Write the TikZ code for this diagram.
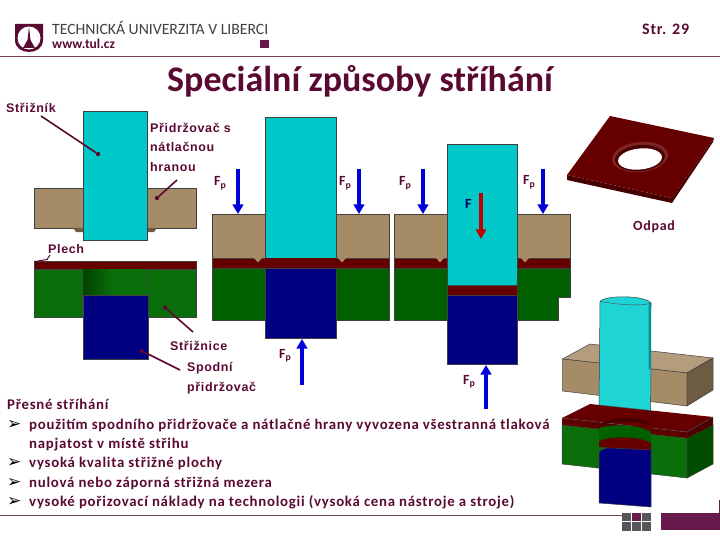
\documentclass[tikz,border=0pt]{standalone}
\usepackage{fontspec}
\usetikzlibrary{arrows.meta,positioning,calc}
\setmainfont{Carlito}
\newfontfamily\slidefont[LetterSpace=5]{Carlito}
\newfontfamily\labelfont[LetterSpace=5]{Liberation Sans}
\newfontfamily\symfont{DejaVu Sans}
\definecolor{tulwine}{RGB}{90,10,50}
\definecolor{tulbar}{RGB}{104,26,76}
\definecolor{rulegray}{RGB}{120,70,85}
\definecolor{tilegray}{RGB}{85,85,90}
\definecolor{holdertan}{RGB}{166,140,102}
\definecolor{holderdark}{RGB}{110,92,66}
\definecolor{punchcyan}{RGB}{0,200,200}
\definecolor{punchlight}{RGB}{30,212,212}
\definecolor{sheetred}{RGB}{102,0,0}
\definecolor{diegreen}{RGB}{10,110,10}
\definecolor{diedark}{RGB}{0,96,0}
\definecolor{lowblue}{RGB}{0,0,128}
\tikzset{
  part/.style={draw=black!75!white,line width=0.5pt},
  fplabel/.style={anchor=base west,inner sep=0pt,text=tulwine,font=\bfseries\fontsize{14}{14}\selectfont},
  tag/.style={anchor=base west,inner sep=0pt,text=tulwine,align=left,font=\labelfont\bfseries\fontsize{12.5}{19.5}\selectfont},
  bodyline/.style={anchor=base west,inner sep=0pt,text=tulwine,font=\slidefont\bfseries\fontsize{14.8}{16}\selectfont},
  leader/.style={draw=tulwine,line width=1.6pt},
  leaddot/.style={circle,fill=tulwine,inner sep=0pt,minimum size=4.5pt},
  fparrow/.style={draw=blue!85!black,line width=3.4pt,-{Triangle[length=9.5pt,width=10.5pt]}},
  farrow/.style={draw=red!75!black,line width=3.4pt,-{Triangle[length=9.5pt,width=10pt,fill=red!90!black]}},
}
\begin{document}
\begin{tikzpicture}[x=1pt,y=-1pt]
  \useasboundingbox (0,0) rectangle (720,540);
  % header and footer
  \draw[rulegray,line width=0.7pt] (0,56.5) -- (720,56.5);
  \draw[rulegray,line width=0.7pt] (0,515) -- (622,515);
  \fill[tulwine] (15,24) -- (43,24) -- (43,40) .. controls (43,48) and (36,52) .. (29,52) .. controls (22,52) and (15,48) .. (15,40) -- cycle;
  \fill[white] (29,38) circle (11.5);
  \fill[tulwine] (29,27) -- (30.5,40) -- (35,48) -- (23,48) -- (27.5,40) -- cycle;
  \node[anchor=base west,inner sep=0pt,text=black!75!white,font=\fontsize{15.7}{16}\selectfont] (tultitle) at (52,34.5) {TECHNICKÁ UNIVERZITA V LIBERCI};
  \node[anchor=base west,inner sep=0pt,text=tulwine,font=\bfseries\fontsize{13.5}{14}\selectfont] (tulweb) at (52,49) {www.tul.cz};
  \fill[tulbar] (260,40) rectangle (268.5,48.5);
  \node[anchor=base west,inner sep=0pt,text=tulwine,font=\slidefont\bfseries\fontsize{16}{17}\selectfont] (page) at (642,35) {Str. 29};
  \node[anchor=base west,inner sep=0pt,text=tulwine,font=\bfseries\fontsize{36}{36}\selectfont] (title) at (167,92) {Speciální způsoby stříhání};
  \foreach \col in {0,1,2}
    \foreach \row in {0,1}
      \fill[tilegray] (622+\col*10.2,513+\row*9.3) rectangle +(9,8.2);
  \fill[tulbar] (632.2,513) rectangle +(9,8.2);
  \fill[tulbar] (661,513) rectangle (720,530);
  \draw[tulbar,line width=0.7pt] (719.5,500) -- (719.5,513);

  % open tool
  \draw[part,fill=holdertan] (34,188) rectangle (196,228.5);
  \fill[holderdark] (73,228) -- (76,232) -- (83,232) -- (83,228) -- cycle (157,228) -- (154,232) -- (147,232) -- (147,228) -- cycle;
  \draw[part,fill=punchcyan] (83,111) rectangle (147.5,240.5);
  \draw[part,fill=sheetred] (34,261) rectangle (196,269);
  \draw[part,fill=diegreen] (34,269) rectangle (196,317.5);
  \shade[left color=diedark!70!black,right color=diegreen] (83,269) rectangle (113,295);
  \fill[diegreen] (113,269) rectangle (147,295);
  \draw[black!70!white,line width=0.5pt] (83,269) -- (82,317.5) (147.5,269) -- (148,317.5);
  \draw[part,fill=lowblue] (83,295) rectangle (148,359.5);

  % holder and lower holder closed
  \draw[part,fill=holdertan] (212,214) rectangle (389,258);
  \draw[part,fill=sheetred] (212,258) rectangle (389,268);
  \draw[part,fill=diedark] (212,268) rectangle (389,320.5);
  \fill[holdertan] (254,258) -- (262,258) -- (258,262.5) -- cycle (338,258) -- (346,258) -- (342,262.5) -- cycle;
  \draw[part,fill=punchcyan] (265,117) rectangle (336,258);
  \fill[sheetred] (265,258) rectangle (336,268);
  \draw[part,fill=lowblue] (265,268) rectangle (336,338);

  % sheared
  \draw[part,fill=holdertan] (394,214) rectangle (570,258);
  \draw[part,fill=sheetred] (394,258) rectangle (570,268);
  \draw[part,fill=diedark] (394,268) -- (570,268) -- (570,297) -- (558,297) -- (558,320.5) -- (394,320.5) -- cycle;
  \fill[holdertan] (436,258) -- (444,258) -- (440,262.5) -- cycle (521,258) -- (529,258) -- (525,262.5) -- cycle;
  \draw[part,fill=punchcyan] (447,144) rectangle (517,285);
  \draw[part,fill=sheetred] (447,285) rectangle (517,295);
  \draw[part,fill=lowblue] (447,295) rectangle (517,364.5);

  % forces
  \foreach \name/\x/\ya/\yb in {fpa/238/169/214,fpb/359/169/214,fpc/423/169/214,fpd/543/169/214,fpe/302/385/339,fpf/486/409/365}{
    \coordinate (\name tail) at (\x,\ya);
    \coordinate (\name tip) at (\x,\yb);
    \draw[fparrow] (\name tail) -- (\name tip);
  }
  \coordinate (ftail) at (481,193);
  \coordinate (ftip) at (481,239);
  \draw[farrow] (ftail) -- (ftip);
  \node[fplabel] (fla) at (214,186) {F\textsubscript{p}};
  \node[fplabel] (flb) at (339,186) {F\textsubscript{p}};
  \node[fplabel] (flc) at (399,186) {F\textsubscript{p}};
  \node[fplabel] (fld) at (523,185) {F\textsubscript{p}};
  \node[fplabel] (fle) at (279,358) {F\textsubscript{p}};
  \node[fplabel] (flf) at (463,384) {F\textsubscript{p}};
  \node[fplabel,text=lowblue!70!black] (flz) at (465,209) {F};

  % labels
  \node[tag] (strnik) at (6,113) {Střižník};
  \node[tag,anchor=north west] (drzak) at (150,122.5) {Přidržovač s\\nátlačnou\\hranou};
  \node[tag] (plech) at (48,254) {Plech};
  \node[tag] (strnice) at (170,350) {Střižnice};
  \node[tag,anchor=north west] (spodni) at (187,362.5) {Spodní\\přidržovač};
  \node[anchor=base west,inner sep=0pt,text=tulwine,font=\slidefont\bfseries\fontsize{14}{14}\selectfont] (odpad) at (633,230) {Odpad};
  \node[leaddot] (pdot) at (98,154) {};
  \node[leaddot] (ddot) at (157,198) {};
  \node[leaddot,minimum size=2pt] (sdot) at (35,261.5) {};
  \node[leaddot] (ndot) at (165,307.5) {};
  \node[leaddot] (bdot) at (142,351) {};
  \coordinate (pstart) at (41,116);
  \coordinate (dstart) at (177,180);
  \coordinate (sstart) at (50,255);
  \coordinate (sbend) at (47,259.5);
  \coordinate (nstart) at (193,332);
  \coordinate (bstart) at (180,370);
  \draw[leader] (pstart) -- (pdot);
  \draw[leader] (dstart) -- (ddot);
  \draw[leader,line width=1pt] (sstart) -- (sbend) -- (sdot);
  \draw[leader] (nstart) -- (ndot);
  \draw[leader] (bstart) -- (bdot);

  % text
  \node[bodyline] (lead) at (7,409) {Přesné stříhání};
  \foreach \yy/\txt in {429/{použitím spodního přidržovače a nátlačné hrany vyvozena všestranná tlaková},467.5/{vysoká kvalita střižné plochy},487/{nulová nebo záporná střižná mezera},506/{vysoké pořizovací náklady na technologii (vysoká cena nástroje a stroje)}}{
    \node[anchor=base west,inner sep=0pt,text=black,font=\symfont\fontsize{17}{17}\selectfont] at (7,\yy) {➢};
    \node[bodyline] at (29,\yy) {\txt};
  }
  \node[bodyline] (wrapline) at (29,448) {napjatost v místě střihu};

  % waste plate
  \fill[sheetred!70!black] (567,175) -- (672,198) -- (714,138) -- (713,142) -- (672,203) -- (567,180) -- cycle;
  \fill[sheetred] (610,116) -- (714,138) -- (672,198) -- (567,175) -- cycle;
  \fill[sheetred!85!white,rotate around={6:(640,157)}] (640,157) ellipse (28 and 15);
  \fill[sheetred!75!black,rotate around={6:(640,158)}] (640,158) ellipse (25 and 13);
  \fill[white,rotate around={6:(640,159)}] (640,159) ellipse (22 and 10.5);

  % assembly, die and lower holder
  \draw[part,fill=diegreen] (562,425) -- (687,438) -- (687,478) -- (562,464) -- cycle;
  \draw[part,fill=diedark!80!black] (687,438) -- (713,425) -- (713,464) -- (687,478) -- cycle;
  \fill[sheetred] (562,418) -- (590,404) -- (713,417) -- (687,432) -- cycle;
  \fill[sheetred!90!black] (562,418) -- (687,432) -- (687,438) -- (562,425) -- cycle;
  \fill[sheetred!75!black] (687,432) -- (713,417) -- (713,425) -- (687,438) -- cycle;
  \draw[black!70!white,line width=0.4pt] (562,418) -- (687,432) -- (713,417) (687,432) -- (687,438);
  \fill[sheetred] (599,426) rectangle (651,440);
  \fill[sheetred!65!black] (599,427) .. controls (605,415) and (645,415) .. (653,426) .. controls (645,420) and (605,420) .. (599,427) -- cycle;
  \fill[diedark] (599,428) .. controls (610,424) and (640,424) .. (651,432) -- (651,444) -- (599,440) -- cycle;
  \draw[black!60!green,line width=0.4pt] (599,433) .. controls (610,430) and (640,430) .. (651,437);
  \fill[sheetred] (599,441) .. controls (610,436) and (640,436) .. (651,443) -- (651,451) -- (599,447) -- cycle;
  \draw[part,fill=lowblue] (599,452) .. controls (602,449) and (605,448) .. (610,448) -- (651,450) -- (651,507) -- (599,503) -- cycle;

  % assembly, holder and punch
  \draw[part,fill=holdertan!85!white] (562.5,359) -- (590,344) -- (713,358) -- (687,373) -- cycle;
  \draw[part,fill=holdertan] (562.5,359) -- (687,373) -- (687,406) -- (562.5,391) -- cycle;
  \draw[part,fill=holderdark] (687,373) -- (713,358) -- (713,390) -- (687,406) -- cycle;
  \draw[part,fill=punchlight] (600,301.5) .. controls (605,295) and (645,295) .. (651,303) -- (650.7,410.5) -- (599,405) -- cycle;
  \fill[punchcyan!75!black] (648.5,303.5) -- (651,303) -- (650.9,368) -- (648.5,370) -- cycle;
  \draw[black!70!white,line width=0.4pt] (600,301.5) .. controls (615,304) and (640,307) .. (651,303);
\end{tikzpicture}
\end{document}
